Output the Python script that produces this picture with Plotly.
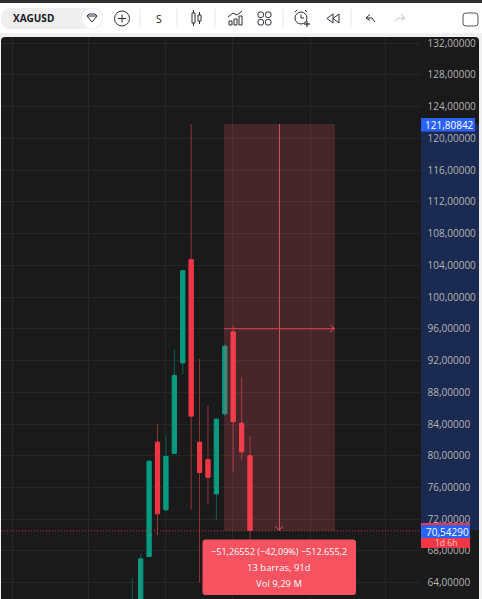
import plotly.graph_objects as go

W = 482
H = 599

# ---- data (weekly XAGUSD candles) ----
bar_index = list(range(15))
open_prices = [58.0, 61.0, 67.3, 81.7, 73.2, 80.3, 91.7, 104.7, 81.7, 79.5, 75.2, 85.3, 95.6, 84.1, 80.0]
high_prices = [64.6, 67.6, 79.5, 84.0, 82.6, 93.4, 103.5, 121.8, 92.2, 86.3, 84.8, 94.1, 96.4, 89.9, 82.5]
low_prices = [57.0, 60.0, 67.3, 70.0, 73.0, 80.3, 90.3, 73.2, 64.0, 73.9, 71.9, 85.0, 78.0, 79.4, 69.4]
close_prices = [61.0, 67.0, 79.3, 72.7, 79.9, 90.1, 103.3, 85.0, 77.9, 77.3, 84.6, 93.8, 84.3, 80.5, 70.6]

price_ticks = [64, 68, 72, 76, 80, 84, 88, 92, 96, 100, 104, 108, 112, 116, 120, 124, 128, 132]
time_grid = [-14.19, -5.15, 3.95, 11.97, 21.14, 30.05]

measure_start = 10.9
measure_end = 24.1
measure_mid = 17.5
measure_high = 121.80842
measure_low = 70.5429
measure_entry = 96.0

BG = "#1a1a1a"
GRID = "#262626"
UP = "#089981"
DOWN = "#f23645"
UP_WICK = "#0a5f53"
DOWN_WICK = "#98303b"
ICON = "#2a2e39"
ICON_OFF = "#c4c4c4"

X_RANGE = [-15.61, 34.33]
Y_RANGE = [61.95, 132.76]
PLOT_RIGHT = 421
PLOT_TOP = 37


# ---- helpers, everything outside the data is placed in screen pixels ----
def px(x):
    return x / W


def py(y):
    return 1 - y / H


def line(x0, y0, x1, y1, color=ICON, width=1, layer="above"):
    return dict(type="line", xref="paper", yref="paper", x0=px(x0), y0=py(y0), x1=px(x1), y1=py(y1),
                line=dict(color=color, width=width), layer=layer)


def box(x0, y0, x1, y1, fill=None, color=None, width=1, layer="above"):
    return dict(type="rect", xref="paper", yref="paper", x0=px(x0), y0=py(y0), x1=px(x1), y1=py(y1),
                fillcolor=fill or "rgba(0,0,0,0)", line=dict(color=color or "rgba(0,0,0,0)", width=width), layer=layer)


def circle(cx, cy, r, fill=None, color=ICON, width=1, layer="above"):
    return dict(type="circle", xref="paper", yref="paper", x0=px(cx - r), y0=py(cy - r), x1=px(cx + r), y1=py(cy + r),
                fillcolor=fill or "rgba(0,0,0,0)", line=dict(color=color or "rgba(0,0,0,0)", width=width), layer=layer)


def rounded(x0, y0, x1, y1, r, fill=None, color=None, width=1, layer="above"):
    p = (f"M {px(x0 + r)} {py(y0)} L {px(x1 - r)} {py(y0)} Q {px(x1)} {py(y0)} {px(x1)} {py(y0 + r)} "
         f"L {px(x1)} {py(y1 - r)} Q {px(x1)} {py(y1)} {px(x1 - r)} {py(y1)} "
         f"L {px(x0 + r)} {py(y1)} Q {px(x0)} {py(y1)} {px(x0)} {py(y1 - r)} "
         f"L {px(x0)} {py(y0 + r)} Q {px(x0)} {py(y0)} {px(x0 + r)} {py(y0)} Z")
    return dict(type="path", xref="paper", yref="paper", path=p, fillcolor=fill or "rgba(0,0,0,0)",
                line=dict(color=color or "rgba(0,0,0,0)", width=width), layer=layer)


def label(x, y, text, color="#ffffff", size=10, anchor="center", family="Open Sans"):
    return dict(xref="paper", yref="paper", x=px(x), y=py(y), text=text, showarrow=False, xanchor=anchor,
                yanchor="middle", font=dict(color=color, size=size, family=family))


shapes = []
annotations = []

# ---- page and toolbar ----
shapes.append(box(0, 3, W, 33, fill="#ffffff", layer="below"))
shapes.append(box(0, 0, W, 3, fill="#2f2f2f", layer="below"))
shapes.append(rounded(1, 37, 479, 606, 4, fill=BG, layer="below"))

shapes.append(rounded(1, 8, 103, 29, 10, fill="#efefef"))
shapes.append(circle(92, 18.5, 10, fill="#ffffff", color=None))
# diamond
for a, b, c, d in [(87, 16, 89, 14), (89, 14, 95, 14), (95, 14, 97, 16), (97, 16, 92, 22), (92, 22, 87, 16), (87, 16, 97, 16)]:
    shapes.append(line(a, b, c, d))
shapes.append(circle(122, 18.5, 7.5))
shapes.append(line(118, 18.5, 126, 18.5))
shapes.append(line(122, 14.5, 122, 22.5))
for sep_x in [140, 177, 215, 283, 351]:
    shapes.append(line(sep_x, 9, sep_x, 27, color="#e6e6e6"))
annotations.append(label(10.5, 18, "<b>XAGUSD</b>", color="#131722", size=10, anchor="left"))
annotations.append(label(159, 19, "S", color="#131722", size=10.5))

# candles icon
shapes.append(box(192, 13, 195, 23, color=ICON))
shapes.append(line(193.5, 10, 193.5, 13))
shapes.append(line(193.5, 23, 193.5, 26))
shapes.append(box(198, 15, 201, 21, color=ICON))
shapes.append(line(199.5, 12, 199.5, 15))
shapes.append(line(199.5, 21, 199.5, 24))
# indicators icon
shapes.append(box(229, 21, 232, 25, color=ICON))
shapes.append(box(234, 19, 237, 25, color=ICON))
shapes.append(box(239, 16, 242, 25, color=ICON))
shapes.append(line(228, 17, 233, 13))
shapes.append(line(233, 13, 237, 15))
shapes.append(line(237, 15, 242, 11))
# layouts icon
for sx, sy in [(258, 12), (265.5, 12), (258, 19.5), (265.5, 19.5)]:
    shapes.append(rounded(sx, sy, sx + 5.5, sy + 5.5, 2, color=ICON))
# alarm icon
shapes.append(circle(301, 18, 6))
shapes.append(line(301, 14.5, 301, 18))
shapes.append(line(301, 18, 304, 18))
shapes.append(line(295, 12, 297, 10))
shapes.append(line(307, 12, 305, 10))
shapes.append(line(307, 21, 307, 27, width=1.2))
shapes.append(line(304, 24, 310, 24, width=1.2))
# replay icon
shapes.append(line(333, 14, 327, 18.5))
shapes.append(line(327, 18.5, 333, 23))
shapes.append(line(333, 14, 333, 23))
shapes.append(line(339, 14, 333, 18.5))
shapes.append(line(333, 18.5, 339, 23))
shapes.append(line(339, 14, 339, 23))
# undo and redo
shapes.append(line(366, 18, 370, 14.5))
shapes.append(line(366, 18, 370, 20.5))
shapes.append(line(366, 18, 372, 18))
shapes.append(line(372, 18, 375, 22))
shapes.append(line(405, 18, 401, 14.5, color=ICON_OFF))
shapes.append(line(405, 18, 401, 20.5, color=ICON_OFF))
shapes.append(line(405, 18, 398, 18, color=ICON_OFF))
shapes.append(line(398, 18, 395, 22, color=ICON_OFF))
shapes.append(rounded(463, 13, 478, 26, 3, color="#555555"))

# ---- price axis band of the measure tool ----
y_band_top = 124
y_band_bottom = 530
shapes.append(box(PLOT_RIGHT, y_band_top, 479, y_band_bottom, fill="#1b2a50", layer="below"))

# ---- measure tool, in chart coordinates ----
shapes.append(dict(type="rect", xref="x", yref="y", x0=measure_start, x1=measure_end,
                   y0=measure_low, y1=measure_high, fillcolor="rgba(248,90,98,0.2)", line=dict(width=0), layer="above"))
shapes.append(dict(type="line", xref="x", yref="y", x0=measure_mid, x1=measure_mid, y0=measure_high, y1=measure_low,
                   line=dict(color="#c9545f", width=1), layer="above"))
shapes.append(dict(type="line", xref="x", yref="y", x0=measure_start, x1=measure_end, y0=measure_entry, y1=measure_entry,
                   line=dict(color="#e2434f", width=1), layer="above"))
shapes.append(line(279, 530, 275, 526, color="#c9545f"))
shapes.append(line(279, 530, 283, 526, color="#c9545f"))
shapes.append(line(334.5, 328.3, 330, 325, color="#e2434f"))
shapes.append(line(334.5, 328.3, 330, 332, color="#e2434f"))
shapes.append(dict(type="line", xref="paper", yref="y", x0=px(1), x1=px(PLOT_RIGHT), y0=measure_low, y1=measure_low,
                   line=dict(color="#c8323e", width=1, dash="1px,2px"), layer="above"))

# ---- price labels ----
shapes.append(box(PLOT_RIGHT, 118, 475, 131.5, fill="#2962ff"))
annotations.append(label(449.5, 125, "121,80842", size=10))
shapes.append(box(PLOT_RIGHT, 523, 470, 548, fill="#f23645"))
annotations.append(label(446, 542.5, "1d 6h", color="#ffc9cd", size=8.5))
shapes.append(box(PLOT_RIGHT, 525, 470, 538, fill="#2962ff"))
annotations.append(label(447.5, 531.5, "70,54290", size=10))

# ---- tooltip ----
shapes.append(rounded(202.5, 539.5, 356, 595, 3, fill="#f7525f"))
annotations.append(label(279, 551, "−51,26552 (−42,09%) −512.655,2", size=9.1))
annotations.append(label(279, 567, "13 barras, 91d", size=9.5))
annotations.append(label(279, 583, "Vol 9,29 M", size=9.5))

# ---- candles ----
fig = go.Figure()
# wicks
fig.add_trace(go.Candlestick(
    x=bar_index, open=open_prices, high=high_prices, low=low_prices, close=close_prices,
    increasing=dict(line=dict(color=UP_WICK, width=1), fillcolor=UP_WICK),
    decreasing=dict(line=dict(color=DOWN_WICK, width=1), fillcolor=DOWN_WICK),
    whiskerwidth=0, hoverinfo="skip", showlegend=False,
))

# bodies brighter than the wicks, a candlestick trace has only one line colour
body_high = [max(o, c) for o, c in zip(open_prices, close_prices)]
body_low = [min(o, c) for o, c in zip(open_prices, close_prices)]
fig.add_trace(go.Candlestick(
    x=bar_index, open=open_prices, high=body_high, low=body_low, close=close_prices,
    increasing=dict(line=dict(color=UP, width=1), fillcolor=UP),
    decreasing=dict(line=dict(color=DOWN, width=1), fillcolor=DOWN),
    whiskerwidth=0, hoverinfo="skip", showlegend=False,
))

fig.update_layout(
    width=W, height=H,
    margin=dict(l=0, r=0, t=0, b=0),
    paper_bgcolor="#f0f0f0",
    plot_bgcolor="rgba(0,0,0,0)",
    separators=",.",
    showlegend=False,
    shapes=shapes,
    annotations=annotations,
    boxmode="overlay",
    xaxis=dict(domain=[px(1), px(PLOT_RIGHT)], range=X_RANGE, tickmode="array", tickvals=time_grid,
               showticklabels=False, showgrid=True, gridcolor=GRID, zeroline=False, ticks="",
               rangeslider=dict(visible=False), showline=False),
    yaxis=dict(domain=[0, py(PLOT_TOP)], range=Y_RANGE, side="right", tickmode="array", tickvals=price_ticks,
               tickformat=".5f", showgrid=True, gridcolor=GRID, zeroline=False, showline=False,
               ticks="outside", ticklen=3.5, tickcolor="rgba(0,0,0,0)",
               tickfont=dict(color="#b4b4b4", size=10, family="Open Sans")),
)

fig.write_html("out.html", config=dict(displayModeBar=False),
               post_script="document.body.style.margin='0';document.body.style.overflow='hidden';")
